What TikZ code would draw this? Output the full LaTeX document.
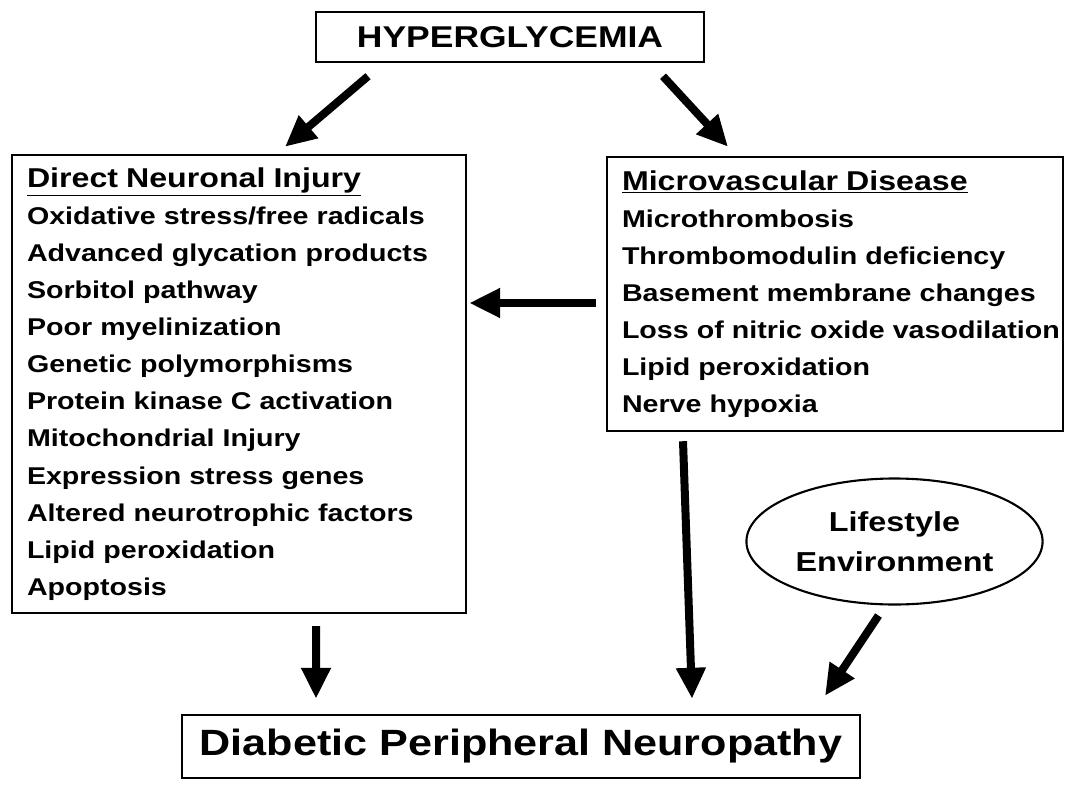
\documentclass[tikz,border=0pt]{standalone}
\usepackage{fontspec}
\setmainfont{Liberation Sans}[FakeStretch=1.18]
\usetikzlibrary{arrows.meta,shapes.geometric}

\begin{document}
\begin{tikzpicture}[
    box/.style={draw,line width=1.4pt,inner ysep=0pt},
    fat/.style={line width=0.16cm,-{Triangle[length=0.62cm,width=0.56cm]}}]
  \useasboundingbox (0,0) rectangle (21.6,-16.2);
  \node[box,minimum width=7.76cm,minimum height=1cm,font=\fontsize{17.1}{20}\selectfont\bfseries](hyper) at (10.2,-0.74){HYPERGLYCEMIA};
  \node[box,inner xsep=0.3cm,minimum height=9.16cm,text width=8.48cm,align=left,font=\fontsize{13.8}{21.1}\selectfont\bfseries](direct) at (4.78,-7.68){{\fontsize{15.5}{21.1}\selectfont\underline{Direct Neuronal Injury}}\\
    Oxidative stress/free radicals\\
    Advanced glycation products\\
    Sorbitol pathway\\
    Poor myelinization\\
    Genetic polymorphisms\\
    Protein kinase C activation\\
    Mitochondrial Injury\\
    Expression stress genes\\
    Altered neurotrophic factors\\
    Lipid peroxidation\\
    Apoptosis};
  \node[box,inner xsep=0.3cm,minimum height=5.48cm,text width=8.52cm,align=left,font=\fontsize{13.8}{21.1}\selectfont\bfseries](micro) at (16.7,-5.88){{\fontsize{15.5}{21.1}\selectfont\underline{Microvascular Disease}}\\
    Microthrombosis\\
    Thrombomodulin deficiency\\
    Basement membrane changes\\
    \mbox{Loss of nitric oxide vasodilation}\\
    Lipid peroxidation\\
    Nerve hypoxia};
  \node[draw,ellipse,line width=1.2pt,minimum width=5.9cm,minimum height=2.52cm,align=center,font=\fontsize{15.6}{22.7}\selectfont\bfseries](life) at (17.89,-10.83){Lifestyle\\Environment};
  \node[box,minimum width=13.56cm,minimum height=1.26cm,font=\fontsize{20.8}{24}\selectfont\bfseries](dpn) at (10.42,-14.93){Diabetic Peripheral Neuropathy};
  \draw[fat]([xshift=-2.84cm,yshift=-0.26cm]hyper.south)--([xshift=0.92cm,yshift=0.14cm]direct.north);
  \draw[fat]([xshift=3.06cm,yshift=-0.26cm]hyper.south)--([xshift=-2.14cm,yshift=0.18cm]micro.north);
  \draw[fat]([xshift=-0.2cm,yshift=-0.18cm]micro.west)--([xshift=0.04cm,yshift=1.62cm]direct.east);
  \draw[fat]([xshift=1.54cm,yshift=-0.24cm]direct.south)--([xshift=-4.1cm,yshift=0.3cm]dpn.north);
  \draw[fat]([xshift=-3.04cm,yshift=-0.18cm]micro.south)--([xshift=3.42cm,yshift=0.3cm]dpn.north);
  \draw[fat]([xshift=-0.32cm,yshift=-0.2cm]life.south)--([xshift=6.08cm,yshift=0.36cm]dpn.north);
\end{tikzpicture}
\end{document}
